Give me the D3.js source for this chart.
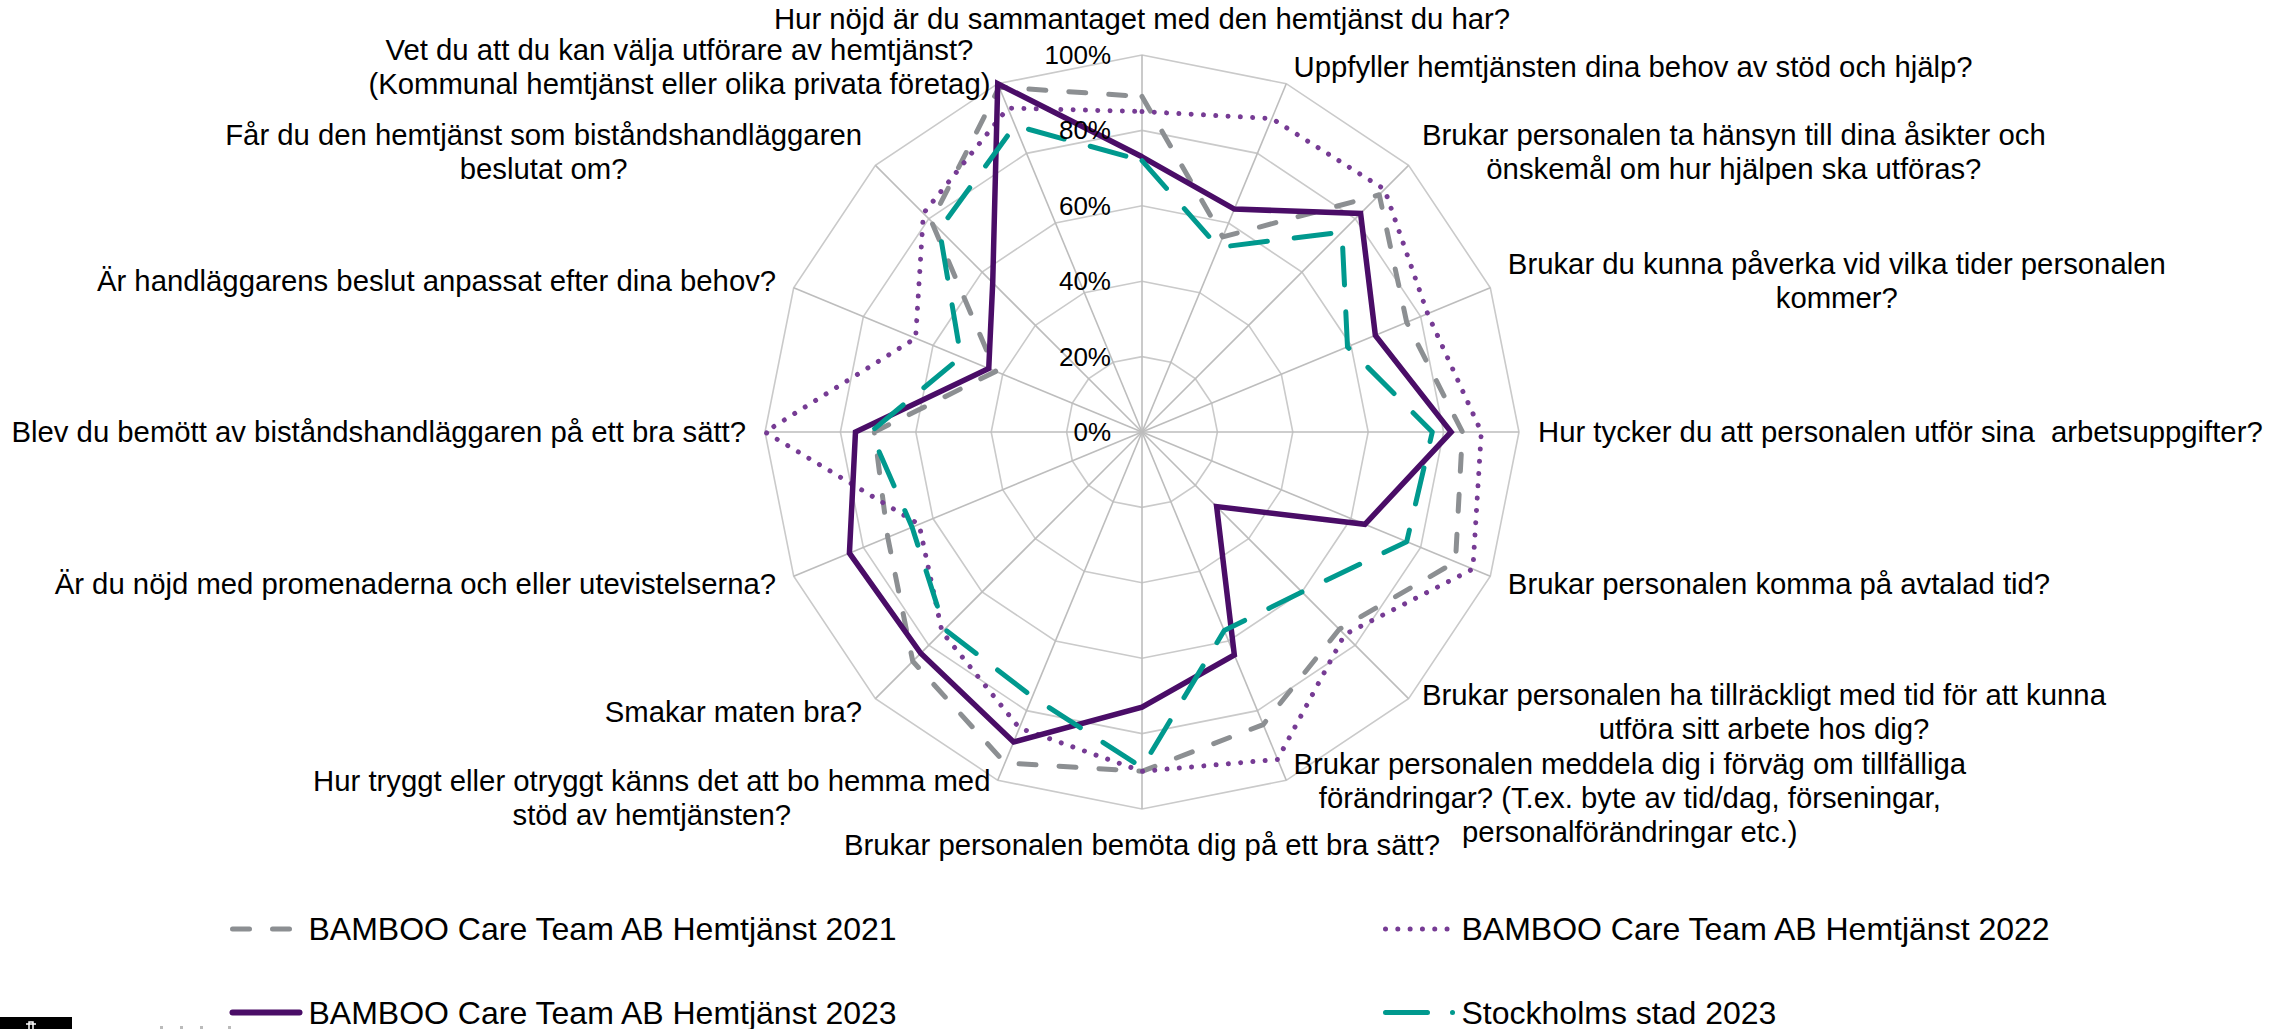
<!DOCTYPE html>
<html>
<head>
<meta charset="utf-8">
<script src="https://cdn.jsdelivr.net/npm/d3@7"></script>
<style>
body { margin: 0; background: #fff; }
svg text { font-family: "Liberation Sans", Arial, sans-serif; fill: #000; }
</style>
</head>
<body>
<div id="chart"></div>
<script>
// questions, clockwise from the top (each entry = the label lines)
var questions = [
    ["Hur nöjd är du sammantaget med den hemtjänst du har?"],
    ["Uppfyller hemtjänsten dina behov av stöd och hjälp?"],
    ["Brukar personalen ta hänsyn till dina åsikter och", "önskemål om hur hjälpen ska utföras?"],
    ["Brukar du kunna påverka vid vilka tider personalen", "kommer?"],
    ["Hur tycker du att personalen utför sina  arbetsuppgifter?"],
    ["Brukar personalen komma på avtalad tid?"],
    ["Brukar personalen ha tillräckligt med tid för att kunna", "utföra sitt arbete hos dig?"],
    ["Brukar personalen meddela dig i förväg om tillfälliga", "förändringar? (T.ex. byte av tid/dag, förseningar,", "personalförändringar etc.)"],
    ["Brukar personalen bemöta dig på ett bra sätt?"],
    ["Hur tryggt eller otryggt känns det att bo hemma med", "stöd av hemtjänsten?"],
    ["Smakar maten bra?"],
    ["Är du nöjd med promenaderna och eller utevistelserna?"],
    ["Blev du bemött av biståndshandläggaren på ett bra sätt?"],
    ["Är handläggarens beslut anpassat efter dina behov?"],
    ["Får du den hemtjänst som biståndshandläggaren", "beslutat om?"],
    ["Vet du att du kan välja utförare av hemtjänst?", "(Kommunal hemtjänst eller olika privata företag)"]
];

// percent values, same order as questions
var bamboo2021 = [89, 56, 89, 76, 85, 90, 74, 84, 90, 95, 86, 73, 71, 42, 79, 99];
var bamboo2022 = [85, 90, 91, 82, 90, 95, 76, 94, 90, 85, 75, 64, 100, 65, 82, 93];
var bamboo2023 = [73, 64, 82, 67, 82, 64, 28, 64, 73, 89, 83, 84, 76, 44, 56, 100];
var stockholm2023 = [72, 53, 75, 59, 77, 76, 60, 57, 89, 76, 74, 66, 72, 52, 76, 88];

var seriesNames = ["BAMBOO Care Team AB Hemtjänst 2021", "BAMBOO Care Team AB Hemtjänst 2022",
                   "BAMBOO Care Team AB Hemtjänst 2023", "Stockholms stad 2023"];

var tickValues = [0, 20, 40, 60, 80, 100];
var tickLabels = ["0%", "20%", "40%", "60%", "80%", "100%"];


function RadarChart(){
    var self = this;
    self.init();
}

RadarChart.prototype.init = function(){
    var self = this;
    self.width = 2292;
    self.height = 1029;
    self.cx = 1142;
    self.cy = 432;
    self.R = 377;

    self.svg = d3.select("#chart").append("svg")
        .attr("width", self.width)
        .attr("height", self.height);

    self.svg.append("rect")
        .attr("width", self.width)
        .attr("height", self.height)
        .attr("fill", "#fff");

    self.r = d3.scaleLinear().domain([0, 100]).range([0, self.R]);
    self.angle = d3.scaleLinear().domain([0, questions.length]).range([0, 2 * Math.PI]);

    self.plot = self.svg.append("g")
        .attr("transform", "translate(" + self.cx + "," + self.cy + ")");
};

RadarChart.prototype.drawGrid = function(){
    var self = this;

    // rings
    self.plot.append("g").selectAll("path")
        .data(tickValues.slice(1))
        .enter()
        .append("path")
        .attr("d", function(level) {
            return d3.lineRadial()
                .angle(function(d, i) { return self.angle(i); })
                .radius(self.r(level))
                .curve(d3.curveLinearClosed)(questions);
        })
        .attr("fill", "none")
        .attr("stroke", "#cacaca")
        .attr("stroke-width", 1.6);

    // spokes
    self.plot.append("g").selectAll("line")
        .data(questions)
        .enter()
        .append("line")
        .attr("x1", 0)
        .attr("y1", 0)
        .attr("x2", function(d, i) { return self.r(100) * Math.sin(self.angle(i)); })
        .attr("y2", function(d, i) { return -self.r(100) * Math.cos(self.angle(i)); })
        .attr("stroke", "#bdbdbd")
        .attr("stroke-width", 1.6);
};

RadarChart.prototype.drawSeries = function(){
    var self = this;

    var styles = [
        {data: bamboo2021, color: "#8c8f92", width: 5, dash: "17,23", cap: "round", join: "round"},
        {data: bamboo2022, color: "#763b94", width: 5, dash: "0.01,12.3", cap: "round", join: "round"},
        {data: bamboo2023, color: "#4a0d67", width: 5.5, dash: null, cap: "butt", join: "miter"},
        {data: stockholm2023, color: "#00998e", width: 5, dash: "37,27", cap: "round", join: "round"}
    ];
    self.styles = styles;

    var radar = d3.lineRadial()
        .angle(function(d, i) { return self.angle(i); })
        .radius(function(d) { return self.r(d); })
        .curve(d3.curveLinearClosed);

    self.plot.append("g").selectAll("path")
        .data(styles)
        .enter()
        .append("path")
        .attr("d", function(s) { return radar(s.data); })
        .attr("fill", "none")
        .attr("stroke", function(s) { return s.color; })
        .attr("stroke-width", function(s) { return s.width; })
        .attr("stroke-dasharray", function(s) { return s.dash; })
        .attr("stroke-linecap", function(s) { return s.cap; })
        .attr("stroke-linejoin", function(s) { return s.join; });

    // percent ticks left of the vertical axis
    self.plot.append("g").selectAll("text")
        .data(tickValues)
        .enter()
        .append("text")
        .attr("x", -31)
        .attr("y", function(d) { return -self.r(d) + 9; })
        .attr("text-anchor", "end")
        .style("font-size", "26px")
        .text(function(d, i) { return tickLabels[i]; });
};

RadarChart.prototype.drawLabels = function(){
    var self = this;
    var fontSize = 29.3, lineH = 34, L = self.R + 19;

    var labels = self.svg.append("g");

    questions.forEach(function(lines, i) {
        var a = self.angle(i);
        var s = Math.sin(a), c = Math.cos(a);
        var ax = self.cx + L * s;
        var ay = self.cy - L * c;

        var g = labels.append("g");
        var texts = g.selectAll("text")
            .data(lines)
            .enter()
            .append("text")
            .attr("text-anchor", "middle")
            .style("font-size", fontSize + "px")
            .style("white-space", "pre")
            .text(function(d) { return d; });

        var w = 0;
        texts.each(function() { w = Math.max(w, this.getComputedTextLength()); });

        var bx = ax;
        if (s > 0.01) bx = ax + w / 2;
        if (s < -0.01) bx = ax - w / 2;

        var n = lines.length;
        var by = ay;
        if (c > 0.99) by = ay - n * lineH / 2;
        if (c < -0.99) by = ay + n * lineH / 2;

        texts.attr("x", bx)
            .attr("y", function(d, k) { return by + (k - (n - 1) / 2) * lineH + fontSize * 0.355; });
    });
};

RadarChart.prototype.drawLegend = function(){
    var self = this;
    var colX = [232.5, 1385.5];
    var rowY = [929, 1012.5];

    var legend = self.svg.append("g").selectAll("g")
        .data(seriesNames)
        .enter()
        .append("g")
        .attr("transform", function(d, i) {
            return "translate(" + colX[i % 2] + "," + rowY[Math.floor(i / 2)] + ")";
        });

    legend.append("line")
        .attr("x1", 0)
        .attr("x2", function(d, i) { return i == 3 ? 67.5 : 67; })
        .attr("y1", 0)
        .attr("y2", 0)
        .attr("stroke", function(d, i) { return self.styles[i].color; })
        .attr("stroke-width", function(d, i) { return i == 2 ? 6 : self.styles[i].width; })
        .attr("stroke-dasharray", function(d, i) { return i == 3 ? "42,25,0.01,100" : self.styles[i].dash; })
        .attr("stroke-linecap", "round");

    legend.append("text")
        .attr("x", 76)
        .attr("y", 11)
        .style("font-size", "32px")
        .text(function(d) { return d; });

    // cut-off logo in the lower left corner
    self.svg.append("rect")
        .attr("x", 0).attr("y", 1017)
        .attr("width", 72).attr("height", 12)
        .attr("fill", "#000");
    self.svg.append("path")
        .attr("d", "M29,1029 L29,1022 L33,1022 L33,1029 M26,1024 L36,1024")
        .attr("stroke", "#fff")
        .attr("stroke-width", 1.5)
        .attr("fill", "none");
    self.svg.append("g").selectAll("rect")
        .data([160, 180, 200, 228])
        .enter()
        .append("rect")
        .attr("x", function(d) { return d; })
        .attr("y", 1026)
        .attr("width", 3)
        .attr("height", 3)
        .attr("fill", "#bbb");
};

var chart = new RadarChart();
chart.drawGrid();
chart.drawSeries();
chart.drawLabels();
chart.drawLegend();
</script>
</body>
</html>
